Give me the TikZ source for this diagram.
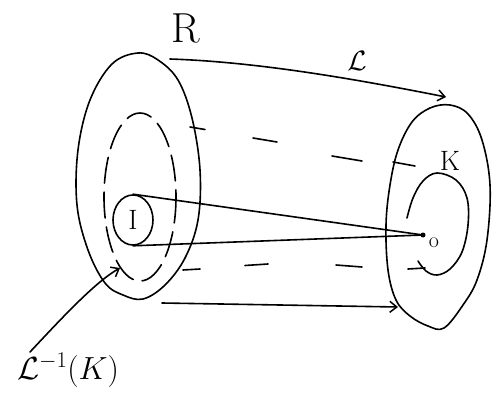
\RequirePackage{fix-cm}
\documentclass[tikz,border=0pt]{standalone}
\usetikzlibrary{arrows.meta,shapes.geometric}
\begin{document}
\begin{tikzpicture}[x=1pt,y=-1pt,line width=1.6pt,line cap=round,line join=round,
  barb/.style={-{Straight Barb[length=7pt,width=11pt,line width=1.5pt]}},
  lbl/.style={inner sep=0pt},
  big/.style={font=\fontsize{42}{42}\selectfont},
  mid/.style={font=\fontsize{28}{28}\selectfont},
  dashline/.style={line width=1.6pt}]
\useasboundingbox (0,0) rectangle (501,396);
% left disc
\draw plot[smooth cycle,tension=0.6] coordinates {(138,53) (158,60) (178,80) (192,118) (200,170) (198,220) (185,258) (165,285) (143,299) (123,295) (105,283) (88,250) (77,205) (78,150) (90,100) (112,64)};
% inner dashed region
\draw[dash pattern=on 26pt off 9pt] (140,197) ellipse [x radius=36, y radius=84];
% right disc
\draw plot[smooth cycle,tension=0.6] coordinates {(450,105) (468,114) (482,140) (490,185) (487,240) (477,280) (463,305) (444,328) (428,326) (410,316) (396,300) (388,270) (386,225) (390,185) (398,150) (412,122) (430,108)};
% K curve
\draw plot[smooth,tension=0.6] coordinates {(407,218) (413,198) (423,181) (437,173) (456,180) (467,198) (468,225) (462,252) (450,269) (437,275) (426,271) (418,261)};
% dashed lines
\draw[dashline] (190,127) -- (205,129.5) (253,138) -- (277,142) (332,156) -- (362,161) (393,162) -- (415,166);
\draw[dashline] (183,270) -- (200,269) (245,265.5) -- (268,264) (336,265) -- (362,267) (408,269) -- (425,268);
% labels
\node[lbl,big] (R) at (186,28) {R};
\node[lbl,mid] (L) at (357,61) {$\mathcal{L}$};
\node[lbl,mid] (K) at (450,161) {K};
\node[draw,ellipse,minimum width=40pt,minimum height=50pt,inner sep=0pt,mid] (I) at (133,220) {I};
\node[lbl,font=\fontsize{22}{22}\selectfont] (o) at (434,243) {o};
\node[lbl,font=\fontsize{32}{32}\selectfont] (Linv) at (68,370) {$\mathcal{L}^{-1}(K)$};
% points
\coordinate (p) at (423,235);
\fill (p) circle (2.5pt);
\coordinate (ta) at (170,59);
\coordinate (tb) at (446,97);
\coordinate (ba) at (162,303);
\coordinate (bb) at (398,307);
\coordinate (ls) at (30,352);
\coordinate (le) at (120,268);
% connectors
\draw (I.north) -- (p);
\draw (I.south) -- (p);
\draw[barb] (ta) .. controls (260,62) and (360,80) .. (tb);
\draw[barb] (ba) -- (bb);
\draw[barb] (ls) .. controls (60,320) and (95,282) .. (le);
\end{tikzpicture}
\end{document}
